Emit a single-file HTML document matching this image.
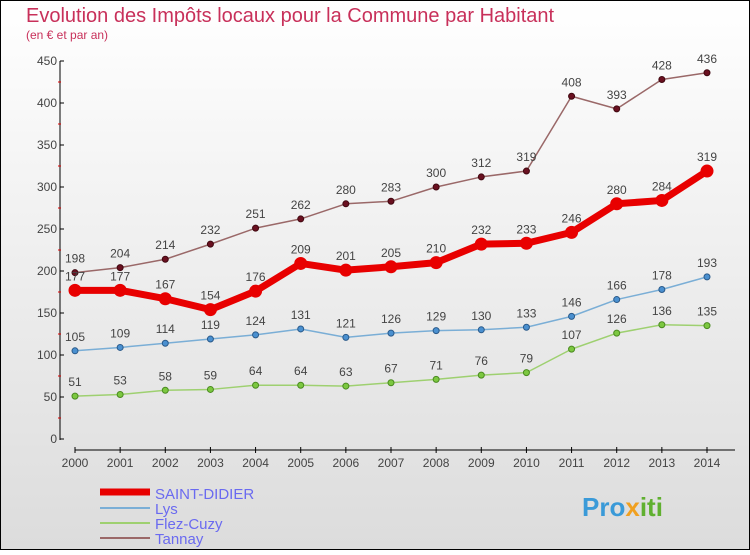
<!DOCTYPE html>
<html><head><meta charset="utf-8"><style>
body{margin:0;width:750px;height:550px;overflow:hidden;font-family:"Liberation Sans",sans-serif}
</style></head><body>
<svg width="750" height="550" xmlns="http://www.w3.org/2000/svg">
<defs><linearGradient id="bg" x1="0" y1="0" x2="0" y2="1"><stop offset="0" stop-color="#ffffff"/><stop offset="1" stop-color="#dcdcdc"/></linearGradient></defs>
<rect x="0.5" y="0.5" width="749" height="549" fill="url(#bg)" stroke="#000"/>
<text x="26" y="22" font-size="20" fill="#c8305a">Evolution des Impôts locaux pour la Commune par Habitant</text>
<text x="26" y="39" font-size="12" fill="#c8305a">(en € et par an)</text>
<g id="axes"></g><g id="series"></g>
<g>
<line x1="100" y1="492" x2="150" y2="492" stroke="#e80000" stroke-width="7"/>
<text x="155" y="499" font-size="15" fill="#6a6af0">SAINT-DIDIER</text>
<line x1="100" y1="508" x2="150" y2="508" stroke="#7aaed6" stroke-width="2"/>
<text x="155" y="514" font-size="15" fill="#6a6af0">Lys</text>
<line x1="100" y1="523" x2="150" y2="523" stroke="#9ed070" stroke-width="2"/>
<text x="155" y="529" font-size="15" fill="#6a6af0">Flez-Cuzy</text>
<line x1="100" y1="538" x2="150" y2="538" stroke="#9a6868" stroke-width="2"/>
<text x="155" y="544" font-size="15" fill="#6a6af0">Tannay</text>
</g>
<text x="582" y="516" font-size="26" font-weight="bold" fill="#3a9ad8">Pro<tspan fill="#f0a020">x</tspan><tspan fill="#60b030">iti</tspan></text>
</svg>
<script>
const years=[2000,2001,2002,2003,2004,2005,2006,2007,2008,2009,2010,2011,2012,2013,2014];
const yTicks=[0,50,100,150,200,250,300,350,400,450];
const saintDidier=[177,177,167,154,176,209,201,205,210,232,233,246,280,284,319];
const lys=[105,109,114,119,124,131,121,126,129,130,133,146,166,178,193];
const flez=[51,53,58,59,64,64,63,67,71,76,79,107,126,136,135];
const tannay=[198,204,214,232,251,262,280,283,300,312,319,408,393,428,436];
const NS="http://www.w3.org/2000/svg";
const xs=i=>75+i*(707-75)/(years.length-1);
const ys=v=>439-v*(378/450);
function mk(tag,attrs,parent){const e=document.createElementNS(NS,tag);for(const k in attrs)e.setAttribute(k,attrs[k]);parent.appendChild(e);return e;}
const ax=document.getElementById('axes');
let l=mk('line',{x1:60,y1:ys(450),x2:60,y2:440,stroke:'#000'},ax);


l=mk('line',{x1:75,y1:450,x2:735,y2:450,stroke:'#000'},ax);


yTicks.forEach(v=>{
 mk('line',{x1:60,y1:ys(v),x2:64,y2:ys(v),stroke:'#000'},ax);
 if(v<450)mk('line',{x1:58,y1:ys(v+25),x2:61,y2:ys(v+25),stroke:'#d00'},ax);
 const t=mk('text',{x:57,y:ys(v)+4,'font-size':12,fill:'#444','text-anchor':'end'},ax);
 t.textContent=v;
 
 
});
years.forEach((y,i)=>{
 mk('line',{x1:xs(i),y1:447,x2:xs(i),y2:453,stroke:'#000'},ax);
 const t=mk('text',{x:xs(i),y:467,'font-size':12,fill:'#444','text-anchor':'middle'},ax);
 t.textContent=y;
 
 
});
const sg=document.getElementById('series');
function series(vals,name,color,w,r,dot,dotStroke){
 const g=mk('g',{},sg);
 
 
 const p=mk('polyline',{points:vals.map((v,i)=>xs(i)+','+ys(v)).join(' '),fill:'none',stroke:color,'stroke-width':w,'stroke-linejoin':'round'},g);
 
 
 vals.forEach((v,i)=>{
  const c=mk('circle',{cx:xs(i),cy:ys(v),r:r,fill:dot,stroke:dotStroke,'stroke-width':1},g);
  
  
  const t=mk('text',{x:xs(i),y:ys(v)-10,'font-size':12,fill:'#444','text-anchor':'middle'},g);
  t.textContent=v;
  
  
 });
}
series(flez,'flez-cuzy','#9ed070',1.5,3,'#7cc840','#4a8a20');
series(lys,'lys','#7aaed6',1.5,3,'#4a90d0','#2a5a8a');
series(tannay,'tannay','#9a6868',1.5,3,'#6a1020','#400810');
series(saintDidier,'saint-didier','#e80000',7,6,'#e80000','#e80000');
</script>
</body></html>
